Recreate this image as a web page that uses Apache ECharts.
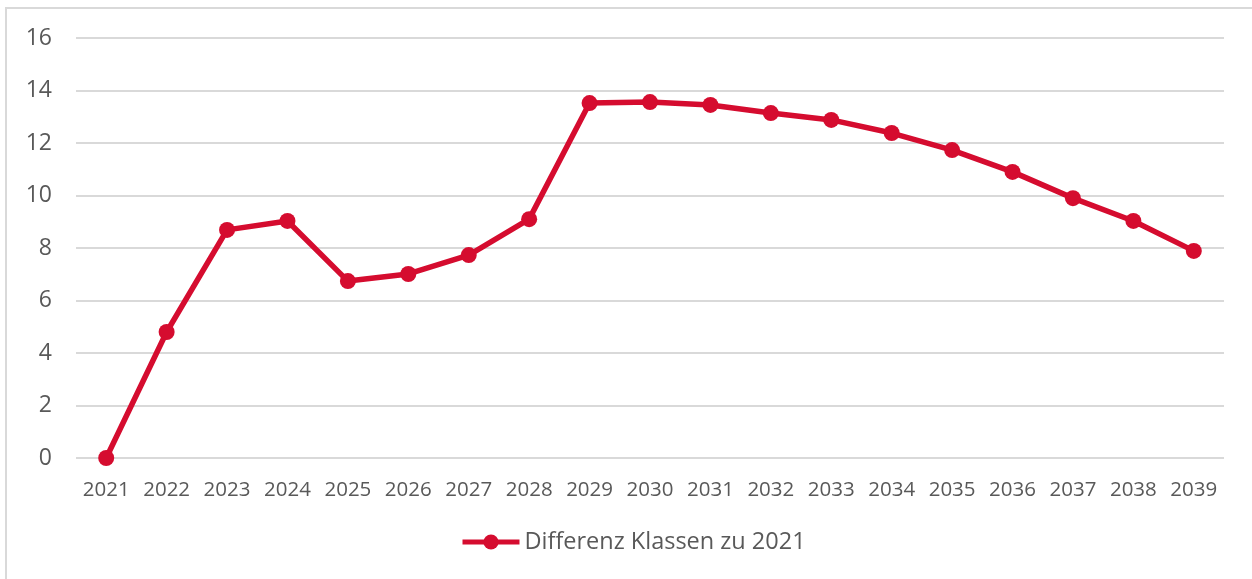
<!DOCTYPE html>
<html>
<head>
<meta charset="utf-8">
<script src="https://cdn.jsdelivr.net/npm/echarts@6/dist/echarts.min.js"></script>
<style>
html,body{margin:0;padding:0;background:#fff;}
#frame{position:absolute;left:5px;top:7px;width:1400px;height:700px;border-left:2px solid #d9d9d9;border-top:2px solid #d9d9d9;}
#c{position:absolute;left:0;top:0;width:1252px;height:579px;}
</style>
</head>
<body>
<div id="frame"></div>
<div id="c"></div>
<script>
const years = ['2021','2022','2023','2024','2025','2026','2027','2028','2029','2030','2031','2032','2033','2034','2035','2036','2037','2038','2039'];
const diffValues = [0, 4.8, 8.69, 9.03, 6.74, 7.01, 7.73, 9.1, 13.52, 13.56, 13.45, 13.14, 12.88, 12.38, 11.73, 10.9, 9.9, 9.03, 7.89];
const yTicks = {min: 0, max: 16, interval: 2};
const seriesName = 'Differenz Klassen zu 2021';

const chart = echarts.init(document.getElementById('c'));
const font = '"Open Sans", sans-serif';
const red = '#d50c2f';
chart.setOption({
  animation: false,
  grid: {left: 76, right: 28, top: 38, bottom: 121},
  legend: {
    top: 530, left: 460, padding: 0,
    itemWidth: 57, itemHeight: 19,
    lineStyle: {width: 5, color: red},
    textStyle: {fontFamily: font, fontSize: 23.5, color: '#595959'},
    data: [seriesName]
  },
  xAxis: {
    type: 'category', data: years, boundaryGap: true,
    axisLine: {show: false}, axisTick: {show: false},
    axisLabel: {interval: 0, hideOverlap: false, fontFamily: font, fontSize: 20.5, color: '#595959', margin: 22}
  },
  yAxis: {
    type: 'value', min: yTicks.min, max: yTicks.max, interval: yTicks.interval,
    axisLine: {show: false}, axisTick: {show: false},
    splitLine: {lineStyle: {color: '#d9d9d9', width: 2}},
    axisLabel: {fontFamily: font, fontSize: 23, color: '#595959', margin: 24}
  },
  series: [{
    name: seriesName, type: 'line', data: diffValues,
    symbol: 'circle', symbolSize: 16,
    lineStyle: {color: red, width: 5.5},
    itemStyle: {color: red}
  }]
});
</script>
</body>
</html>
